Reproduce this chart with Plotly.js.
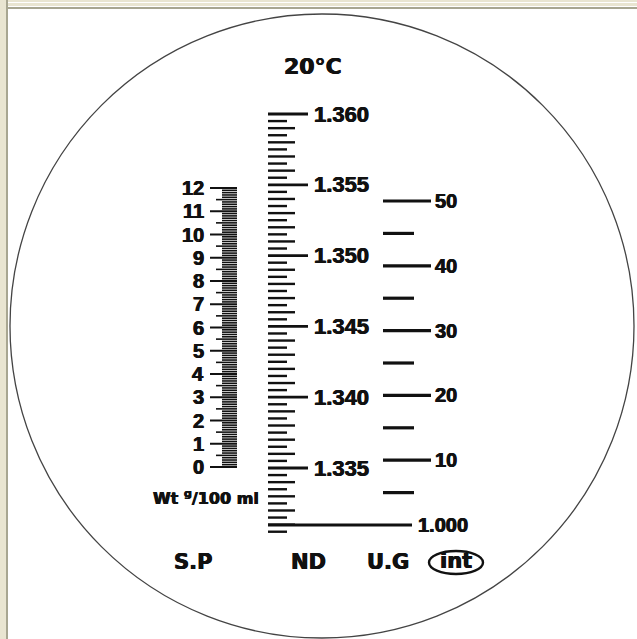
<!DOCTYPE html>
<html>
<head>
<meta charset="utf-8">
<script src="https://cdn.plot.ly/plotly-3.0.1.min.js"></script>
<style>html,body{margin:0;padding:0;background:#fff;}#chart{width:637px;height:639px;}</style>
</head>
<body>
<div id="chart"></div>
<script>
// ---------- data ----------
const ndMajorValues = [1.360, 1.355, 1.350, 1.345, 1.340, 1.335];
const ndMajorLabels = ["1.360", "1.355", "1.350", "1.345", "1.340", "1.335"];
const ndGraduation = {start: 1.3305, end: 1.360, step: 0.0005};

const spValues = [0, 1, 2, 3, 4, 5, 6, 7, 8, 9, 10, 11, 12];
const spLabels = ["0", "1", "2", "3", "4", "5", "6", "7", "8", "9", "10", "11", "12"];
const spGraduation = {start: 0, end: 12, step: 0.1};

const ugMajorValues = [10, 20, 30, 40, 50];
const ugMajorLabels = ["10", "20", "30", "40", "50"];
const ugMinorValues = [5, 15, 25, 35, 45];
const ugBaseValue = 0;
const ugBaseLabel = "1.000";

const columnLabels = ["S.P", "ND", "U.G"];
const titleText = "20°C";
const unitText = "Wt <sup>g</sup>/100 ml";

// ---------- layout helpers ----------
const W = 637, H = 639;
const px = x => x / W;
const py = y => 1 - y / H;
const NARROW = "Liberation Sans, Arial, sans-serif";
const WIDE = "DejaVu Sans, Liberation Sans, sans-serif";
const INK = "#111";
const HEAVY = "0.45px 0 0 #111, -0.45px 0 0 #111";

function segs(values, x0, x1) {
  const xs = [], ys = [];
  values.forEach(v => { xs.push(x0, x1, null); ys.push(v, v, null); });
  return {xs, ys};
}
function lineTrace(values, x0, x1, width, yaxis) {
  const s = segs(values, x0, x1);
  return {type: "scatter", mode: "lines", x: s.xs, y: s.ys, yaxis: yaxis,
          line: {color: INK, width: width}, hoverinfo: "skip", showlegend: false};
}

// ND graduation
const ndLong = [], ndMid = [], ndShort = [];
{
  const n = Math.round((ndGraduation.end - ndGraduation.start) / ndGraduation.step);
  for (let i = 0; i <= n; i++) {
    const v = ndGraduation.start + i * ndGraduation.step;
    const k = Math.round(v * 10000);
    if (k % 50 === 0) ndLong.push(v);
    else if (k % 10 === 0) ndMid.push(v);
    else ndShort.push(v);
  }
}
// S.P graduation
const spLong = [], spMid = [], spShort = [];
{
  const n = Math.round((spGraduation.end - spGraduation.start) / spGraduation.step);
  for (let i = 0; i <= n; i++) {
    const v = spGraduation.start + i * spGraduation.step;
    if (i % 10 === 0) spLong.push(v);
    else if (i % 5 === 0) spMid.push(v);
    else spShort.push(v);
  }
}

const traces = [
  lineTrace(ndLong, 268, 308, 2.8, "y"),
  lineTrace(ndMid, 268, 295, 2.4, "y"),
  lineTrace(ndShort, 268, 287, 2.4, "y"),
  lineTrace(spLong, 210, 237, 2, "y2"),
  lineTrace(spMid, 216, 237, 1.6, "y2"),
  lineTrace(spShort, 222, 237, 1.6, "y2"),
  lineTrace(ugMajorValues, 383, 431, 3.2, "y3"),
  lineTrace(ugMinorValues, 383, 414, 3.2, "y3"),
  lineTrace([ugBaseValue], 268, 412, 3.2, "y3")
];

const font = (fam, size) => ({family: fam, size: size, color: INK, weight: "bold", shadow: HEAVY});
const annotations = [];
ndMajorValues.forEach((v, i) => annotations.push({
  x: 312, xref: "x", y: v, yref: "y", text: ndMajorLabels[i], showarrow: false,
  xanchor: "left", yanchor: "middle", font: font(NARROW, 22)
}));
spValues.forEach((v, i) => annotations.push({
  x: 206, xref: "x", y: v, yref: "y2", text: spLabels[i], showarrow: false,
  xanchor: "right", yanchor: "middle", font: font(NARROW, 20)
}));
ugMajorValues.forEach((v, i) => annotations.push({
  x: 433, xref: "x", y: v, yref: "y3", text: ugMajorLabels[i], showarrow: false,
  xanchor: "left", yanchor: "middle", font: font(NARROW, 20)
}));
annotations.push({
  x: 416, xref: "x", y: ugBaseValue, yref: "y3", text: ugBaseLabel, showarrow: false,
  xanchor: "left", yanchor: "middle", font: font(NARROW, 20)
});
annotations.push({x: px(313), xref: "paper", y: py(67), yref: "paper", text: titleText, showarrow: false,
  xanchor: "center", yanchor: "middle", font: font(WIDE, 22)});
annotations.push({x: px(206), xref: "paper", y: py(497), yref: "paper", text: unitText, showarrow: false,
  xanchor: "center", yanchor: "middle", font: font(WIDE, 16)});
const colX = [193, 308, 388];
columnLabels.forEach((t, i) => annotations.push({x: px(colX[i]), xref: "paper", y: py(562), yref: "paper",
  text: t, showarrow: false, xanchor: "center", yanchor: "middle", font: font(WIDE, 21)}));
annotations.push({x: px(456), xref: "paper", y: py(561), yref: "paper", text: "int", showarrow: false,
  xanchor: "center", yanchor: "middle", font: font(WIDE, 21)});

const beige = "#e9e5d1", gray = "#a8a691";
const shapes = [
  // window frame
  {type: "rect", xref: "paper", yref: "paper", x0: 0, x1: px(6), y0: 0, y1: 1, fillcolor: beige, line: {width: 0}},
  {type: "rect", xref: "paper", yref: "paper", x0: 0, x1: 1, y0: py(6), y1: 1, fillcolor: beige, line: {width: 0}},
  {type: "rect", xref: "paper", yref: "paper", x0: px(8), x1: 1, y0: py(3), y1: py(2), fillcolor: "#ffffff", line: {width: 0}},
  {type: "rect", xref: "paper", yref: "paper", x0: px(6), x1: px(8), y0: 0, y1: 1, fillcolor: gray, line: {width: 0}},
  {type: "rect", xref: "paper", yref: "paper", x0: px(6), x1: 1, y0: py(9), y1: py(7), fillcolor: gray, line: {width: 0}},
  // lens circle
  {type: "circle", xref: "paper", yref: "paper", x0: px(10), x1: px(634), y0: py(638), y1: py(14),
   line: {color: "#444", width: 1.3}},
  // int logo ellipse
  {type: "circle", xref: "paper", yref: "paper", x0: px(429), x1: px(483), y0: py(574), y1: py(551),
   line: {color: INK, width: 2.4}}
];

const layout = {
  width: W, height: H, autosize: false,
  margin: {l: 0, r: 0, t: 0, b: 0, pad: 0},
  paper_bgcolor: "#ffffff", plot_bgcolor: "#ffffff",
  showlegend: false,
  xaxis: {range: [0, W], visible: false, fixedrange: true},
  yaxis: {range: [1.322924, 1.368051], visible: false, fixedrange: true},
  yaxis2: {range: [-7.398, 20.086], overlaying: "y", visible: false, fixedrange: true},
  yaxis3: {range: [-17.59, 81.02], overlaying: "y", visible: false, fixedrange: true},
  annotations: annotations,
  shapes: shapes
};

Plotly.newPlot("chart", traces, layout, {staticPlot: true, displayModeBar: false});
</script>
</body>
</html>
